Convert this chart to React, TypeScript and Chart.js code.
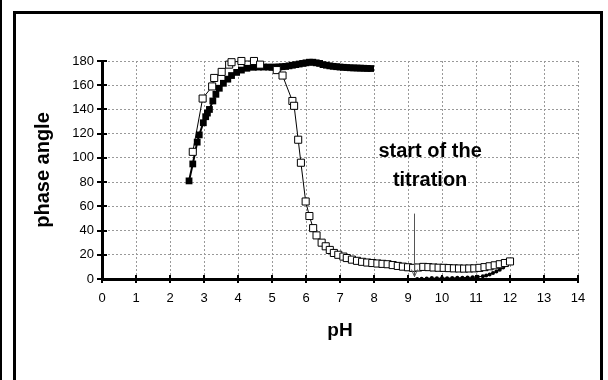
import React, { useEffect, useRef } from "react";
import { Chart, registerables } from "chart.js";

Chart.register(...registerables);

// Filled squares series (pH, phase angle)
const filledPH = [2.56, 2.67, 2.8, 2.86, 2.98, 3.05, 3.1, 3.16, 3.26, 3.35, 3.45, 3.57, 3.7, 3.81, 3.96, 4.1, 4.26, 4.45, 4.6, 4.75, 4.9, 5.0, 5.1, 5.2, 5.3, 5.4, 5.5, 5.6, 5.7, 5.8, 5.9, 6.0, 6.1, 6.2, 6.3, 6.4, 6.5, 6.6, 6.7, 6.8, 6.9, 7.0, 7.1, 7.2, 7.3, 7.4, 7.5, 7.6, 7.7, 7.8, 7.9];
const filledPhase = [81, 95, 113, 119, 129, 134, 137, 140, 147, 152.5, 157.5, 161.6, 165, 168, 170.6, 172.5, 174, 174.8, 175, 175, 175, 174.8, 175, 175, 175.3, 175.5, 176, 176.5, 177, 177.5, 178, 178.5, 179, 179, 178.5, 178, 177, 176.5, 176, 175.6, 175.3, 175, 174.8, 174.6, 174.4, 174.3, 174.2, 174.1, 174, 173.9, 173.8];

// Open squares series
const openPH = [2.67, 2.96, 3.24, 3.3, 3.52, 3.74, 3.81, 4.1, 4.47, 4.65, 5.14, 5.31, 5.6, 5.65, 5.77, 5.85, 5.99, 6.1, 6.21, 6.31, 6.46, 6.58, 6.7, 6.82, 6.95, 7.1, 7.2, 7.35, 7.5, 7.65, 7.8, 7.95, 8.1, 8.25, 8.4, 8.55, 8.7, 8.85, 9.0, 9.15, 9.3, 9.45, 9.6, 9.75, 9.9, 10.05, 10.2, 10.35, 10.5, 10.65, 10.8, 10.95, 11.1, 11.25, 11.4, 11.55, 11.7, 11.85, 12.0];
const openPhase = [105, 149, 159, 166, 171, 177, 179, 180, 180, 177, 172.5, 168, 147, 143, 115, 96, 64, 52, 42, 36, 30, 27, 24, 21.5, 20, 18.5, 17.3, 16, 15, 14.2, 13.6, 13.2, 12.8, 12.5, 12.2, 11.5, 10.8, 10.2, 9.7, 9.2, 9.5, 10, 9.8, 9.5, 9.3, 9.2, 9, 8.8, 8.7, 8.6, 8.7, 8.8, 9.2, 9.8, 10.5, 11.3, 12.2, 13.2, 14.5];

// Small filled dots series (after start of titration)
const dotPH = [9.27, 9.4, 9.55, 9.7, 9.85, 10.0, 10.15, 10.3, 10.45, 10.6, 10.75, 10.9, 11.05, 11.2, 11.3, 11.4, 11.5, 11.6, 11.7, 11.8, 11.9, 12.0];
const dotPhase = [0, 0.3, 0.5, 0.8, 0.6, 0.8, 0.7, 0.9, 1, 1.1, 1.3, 1.5, 1.8, 2.2, 2.8, 3.8, 5, 6.2, 7.7, 9.5, 11.5, 14];

const xTicks = [0, 1, 2, 3, 4, 5, 6, 7, 8, 9, 10, 11, 12, 13, 14];
const yTicks = [0, 20, 40, 60, 80, 100, 120, 140, 160, 180];

const annotationLines = ["start of the", "titration"];
const annotationPH = 9.65;
const annotationPhase = [105.5, 81];
const arrowPH = 9.18;
const arrowFrom = 54;
const arrowTo = 2;

const FONT = "'Liberation Sans', Arial, sans-serif";

const pts = (xs: number[], ys: number[]) => xs.map((x, i) => ({ x, y: ys[i] }));

const decorPlugin = {
  id: "decor",
  afterDraw(chart: any) {
    const { ctx, scales } = chart;
    const xs = scales.x;
    const ys = scales.y;
    const x0 = xs.getPixelForValue(0);
    const y0 = ys.getPixelForValue(0);
    ctx.save();
    ctx.strokeStyle = "#000";
    ctx.lineWidth = 2;
    // crossing tick marks on axes
    yTicks.forEach((v) => {
      const y = Math.round(ys.getPixelForValue(v));
      ctx.beginPath();
      ctx.moveTo(x0 - 5, y);
      ctx.lineTo(x0 + 5, y);
      ctx.stroke();
    });
    xTicks.forEach((v) => {
      const x = Math.round(xs.getPixelForValue(v));
      ctx.beginPath();
      ctx.moveTo(x, y0 - 4);
      ctx.lineTo(x, y0 + 4);
      ctx.stroke();
    });
    // arrow
    const ax = Math.round(xs.getPixelForValue(arrowPH)) + 0.5;
    const ay1 = ys.getPixelForValue(arrowFrom);
    const ay2 = ys.getPixelForValue(arrowTo);
    ctx.strokeStyle = "#555";
    ctx.lineWidth = 1;
    ctx.beginPath();
    ctx.moveTo(ax, ay1);
    ctx.lineTo(ax, ay2);
    ctx.moveTo(ax - 3, ay2 - 7);
    ctx.lineTo(ax, ay2);
    ctx.lineTo(ax + 3, ay2 - 7);
    ctx.stroke();
    // annotation text
    ctx.fillStyle = "#000";
    ctx.font = `bold 20px ${FONT}`;
    ctx.textAlign = "center";
    ctx.textBaseline = "middle";
    annotationLines.forEach((t, i) => {
      ctx.fillText(t, xs.getPixelForValue(annotationPH), ys.getPixelForValue(annotationPhase[i]));
    });
    ctx.restore();
  },
};

export default function App() {
  const canvasRef = useRef<HTMLCanvasElement | null>(null);

  useEffect(() => {
    if (!canvasRef.current) return;
    const chart = new Chart(canvasRef.current, {
      type: "scatter",
      data: {
        datasets: [
          {
            label: "open",
            data: pts(openPH, openPhase),
            showLine: true,
            borderColor: "#000",
            borderWidth: 1,
            pointStyle: "rect",
            pointRadius: 5,
            pointBackgroundColor: "#fff",
            pointBorderColor: "#000",
            pointBorderWidth: 1,
            order: 0,
            clip: false,
          },
          {
            label: "filled",
            data: pts(filledPH, filledPhase),
            showLine: true,
            borderColor: "#000",
            borderWidth: 2,
            pointStyle: "rect",
            pointRadius: 4.8,
            pointBackgroundColor: "#000",
            pointBorderColor: "#000",
            pointBorderWidth: 0,
            order: 1,
            clip: false,
          },
          {
            label: "dots",
            data: pts(dotPH, dotPhase),
            showLine: true,
            borderColor: "#000",
            borderWidth: 1,
            pointStyle: "circle",
            pointRadius: 2,
            pointBackgroundColor: "#000",
            pointBorderColor: "#000",
            pointBorderWidth: 0,
            order: 2,
            clip: false,
          },
        ] as any,
      },
      options: {
        animation: false,
        responsive: false,
        events: [],
        layout: { padding: { left: 0, top: 61, right: 30, bottom: 0 } },
        plugins: { legend: { display: false }, tooltip: { enabled: false } },
        scales: {
          x: {
            type: "linear",
            min: 0,
            max: 14,
            afterFit: (s: any) => {
              s.height = 101;
            },
            ticks: {
              stepSize: 1,
              color: "#000",
              padding: 12,
              font: { size: 13, family: FONT },
            },
            grid: { color: "#999", lineWidth: 1, drawTicks: false },
            border: { display: true, color: "#000", width: 3, dash: [2, 2] },
            title: {
              display: true,
              text: "pH",
              color: "#000",
              font: { size: 19, weight: "bold", family: FONT },
              padding: { top: 0, bottom: 38 },
            },
          },
          y: {
            type: "linear",
            min: 0,
            max: 180,
            afterFit: (s: any) => {
              s.width = 102;
            },
            ticks: {
              stepSize: 20,
              color: "#000",
              padding: 8,
              font: { size: 13, family: FONT },
            },
            grid: { color: "#999", lineWidth: 1, drawTicks: false },
            border: { display: true, color: "#000", width: 3, dash: [2, 2] },
            title: {
              display: true,
              text: "phase angle",
              color: "#000",
              font: { size: 20, weight: "bold", family: FONT },
              padding: { top: 31, bottom: 0 },
            },
          },
        },
      } as any,
      plugins: [decorPlugin],
    });
    return () => chart.destroy();
  }, []);

  const line = (style: React.CSSProperties) => (
    <div style={{ position: "absolute", background: "#000", ...style }} />
  );

  return (
    <div
      style={{
        position: "fixed",
        left: 0,
        top: 0,
        width: 608,
        height: 380,
        background: "#fff",
        overflow: "hidden",
      }}
    >
      <canvas ref={canvasRef} width={608} height={380} style={{ position: "absolute", left: 0, top: 0, display: "block" }} />
      {line({ left: 0, top: 0, width: 2, height: 380 })}
      {line({ left: 13, top: 11, width: 3, height: 369 })}
      {line({ left: 13, top: 11, width: 590, height: 3 })}
      {line({ left: 600, top: 11, width: 3, height: 369 })}
    </div>
  );
}
